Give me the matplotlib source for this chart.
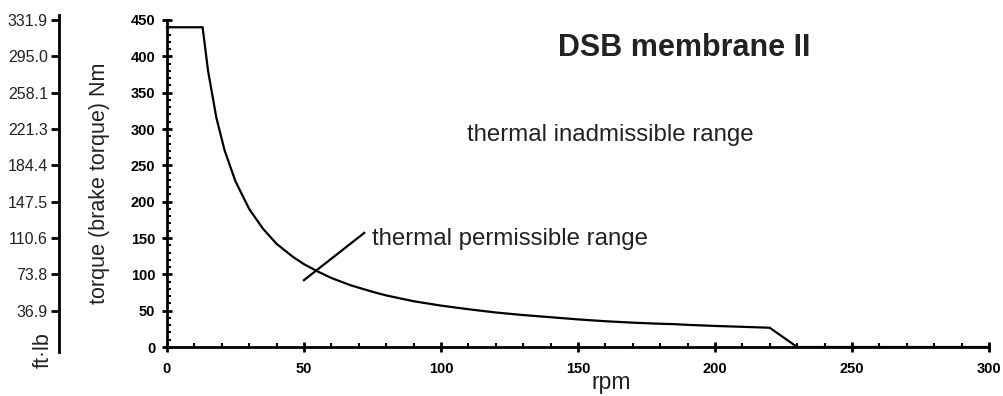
import matplotlib
matplotlib.use("Agg")
import matplotlib.pyplot as plt
from matplotlib.ticker import MultipleLocator, FixedLocator

plt.rcParams['font.family'] = ['Liberation Sans', 'DejaVu Sans']

# data
rpm = [0, 13, 15, 18, 21, 25, 30, 35, 40, 46, 50, 55, 60, 67, 75, 80, 90, 100,
       110, 120, 130, 140, 150, 160, 170, 180, 185, 190, 200, 210, 220, 230, 300]
torque = [440, 440, 380, 316, 271, 228, 190, 163, 142, 124, 114, 104, 95, 85, 76, 71, 63, 57,
          52, 47.5, 44, 41, 38, 35.5, 33.5, 32, 31.5, 30.5, 29, 27.8, 26.5, 0, 0]

nm_ticks = [0, 50, 100, 150, 200, 250, 300, 350, 400, 450]
ftlb_ticks = [50, 100, 150, 200, 250, 300, 350, 400, 450]
ftlb_labels = ['36.9', '73.8', '110.6', '147.5', '184.4', '221.3', '258.1', '295.0', '331.9']
rpm_ticks = [0, 50, 100, 150, 200, 250, 300]

title = 'DSB membrane II'
txt_inadm = 'thermal inadmissible range'
txt_perm = 'thermal permissible range'
pointer_x = [50, 72]
pointer_y = [92, 157]

tc = '#222222'

fig = plt.figure(figsize=(10.04, 3.96), dpi=100)
ax = fig.add_axes([0.1663, 0.1237, 0.8187, 0.8258])

ax.plot(rpm, torque, color='black', lw=1.6, solid_joinstyle='miter', clip_on=False, zorder=3)
ax.plot(pointer_x, pointer_y, color='black', lw=1.6, zorder=3)

ax.set_xlim(0, 300)
ax.set_ylim(0, 450)
ax.spines['top'].set_visible(False)
ax.spines['right'].set_visible(False)
ax.spines['left'].set_linewidth(2)
ax.spines['bottom'].set_linewidth(2)

ax.xaxis.set_major_locator(FixedLocator(rpm_ticks))
ax.yaxis.set_major_locator(FixedLocator(nm_ticks))
ax.xaxis.set_minor_locator(MultipleLocator(10))
ax.yaxis.set_minor_locator(MultipleLocator(10))
ax.tick_params(which='major', direction='inout', length=7, width=2)
ax.tick_params(axis='x', which='major', pad=7)
ax.tick_params(axis='y', which='major', pad=5)
ax.tick_params(which='minor', direction='in', length=3, width=1.5)
for lab in ax.get_xticklabels() + ax.get_yticklabels():
    lab.set_fontweight('bold')
    lab.set_fontsize(10.5)
    lab.set_color('black')

ax.set_ylabel('torque (brake torque) Nm', fontsize=15.5, color=tc)
ax.yaxis.set_label_coords(-0.069, 0.5)
ax.set_xlabel('rpm', fontsize=16.5, color=tc, va='center')
ax.xaxis.set_label_coords(0.54, -0.108)

ax.text(188.7, 412, title, fontsize=22, fontweight='bold', color=tc, ha='center', va='center')
ax.text(109.5, 292, txt_inadm, fontsize=17.3, color=tc, ha='left', va='center')
ax.text(74.8, 148, txt_perm, fontsize=17.3, color=tc, ha='left', va='center')

# ft·lb scale on the far left
ax2 = ax.twinx()
ax2.set_ylim(0, 450)
for s in ['top', 'right', 'bottom']:
    ax2.spines[s].set_visible(False)
ax2.spines['left'].set_position(('axes', -0.1314))
ax2.spines['left'].set_linewidth(2)
ax2.spines['left'].set_bounds(-7, 457)
ax2.yaxis.set_ticks_position('left')
ax2.yaxis.set_label_position('left')
ax2.set_yticks(ftlb_ticks)
ax2.set_yticklabels(ftlb_labels, fontsize=11.5, color=tc)
ax2.tick_params(axis='y', direction='out', length=6, width=2, pad=2)
ax2.spines['left'].set_clip_on(False)

fig.text(0.043, 0.116, 'ft·lb', rotation=90, fontsize=15.5, color=tc, ha='center', va='center')

fig.savefig('out.png', dpi=100)
